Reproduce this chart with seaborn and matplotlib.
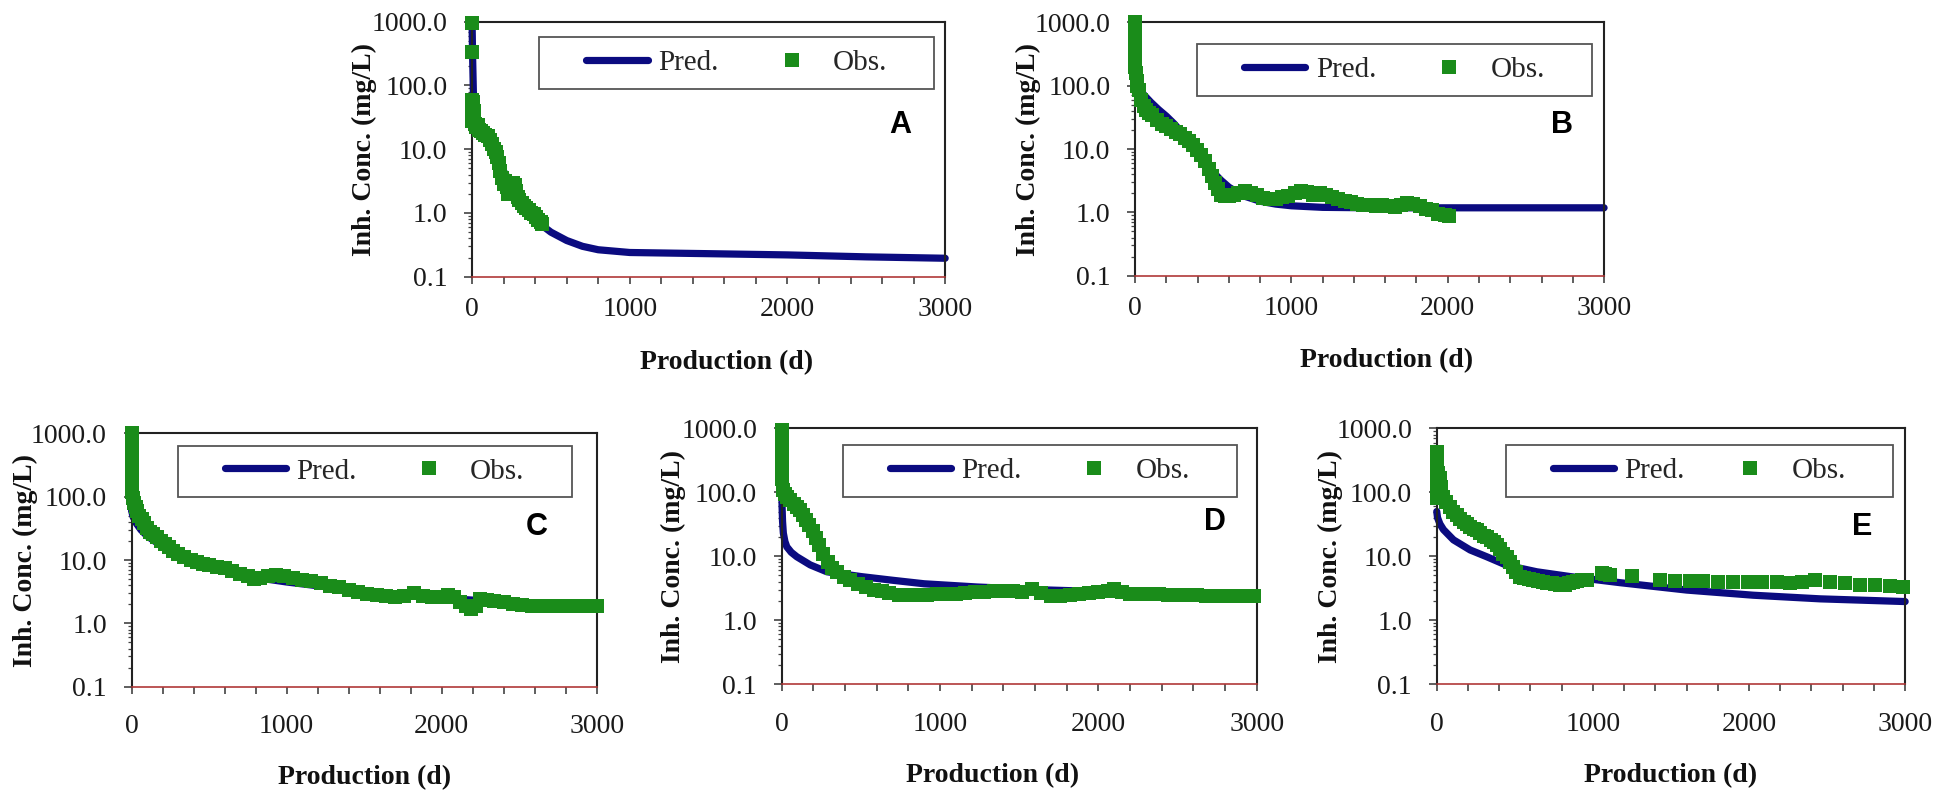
import numpy as np
import pandas as pd
import matplotlib
matplotlib.use("Agg")
import matplotlib.pyplot as plt
import seaborn as sns
from matplotlib.patches import Rectangle
from matplotlib.ticker import LogLocator, NullFormatter, MultipleLocator

# ---------------- data ----------------
a_pred_x = [0, 3, 8, 15, 30, 60, 100, 150, 200, 250, 300, 350, 400, 450, 500, 600, 700, 800, 1000, 1500, 2000, 2500, 3000]
a_pred_y = [950, 300, 80, 45, 32, 24, 17, 9, 4.5, 2.8, 1.9, 1.3, 0.85, 0.62, 0.5, 0.37, 0.3, 0.265, 0.24, 0.23, 0.22, 0.205, 0.195]
a_obs_x = [0, 0, 0, 0, 0, 0, 5, 10, 15, 20, 25, 35, 45, 55, 70, 85, 100, 115, 125, 140, 150, 160, 170, 180, 190, 200,
           210, 220, 230, 240, 250, 260, 270, 280, 290, 300, 315, 330, 345, 360, 375, 390, 405, 420, 435, 445]
a_obs_y = [950, 330, 60, 45, 35, 28, 55, 40, 30, 25, 22, 24, 20, 19, 18, 17, 16, 14, 12, 10, 9, 7.5, 6, 4.5, 3.5, 2.8,
           3.2, 2.6, 2.0, 2.4, 2.9, 3.0, 2.7, 2.2, 1.8, 1.6, 1.45, 1.3, 1.2, 1.1, 1.0, 0.95, 0.85, 0.78, 0.72, 0.68]

b_pred_x = [0, 10, 30, 60, 100, 150, 200, 250, 300, 350, 400, 450, 500, 550, 600, 650, 700, 800, 900, 1000, 1200, 1500, 2000, 2500, 3000]
b_pred_y = [180, 110, 85, 70, 55, 42, 33, 25, 18, 13, 9, 6.2, 4.3, 3.2, 2.5, 2.1, 1.8, 1.5, 1.35, 1.27, 1.2, 1.18, 1.18, 1.18, 1.18]
b_obs_x = [0, 0, 0, 0, 0, 5, 10, 15, 25, 40, 55, 70, 90, 110, 140, 170, 200, 230, 260, 290, 320, 345, 370, 395, 420,
           445, 470, 490, 510, 530, 550, 575, 600, 630, 660, 700, 740, 780, 820, 860, 900, 940, 980, 1020, 1060,
           1100, 1140, 1180, 1220, 1260, 1300, 1340, 1380, 1420, 1460, 1500, 1540, 1580, 1620, 1660, 1700, 1740,
           1780, 1820, 1860, 1900, 1940, 1980, 2010]
b_obs_y = [1000, 700, 450, 300, 200, 160, 120, 100, 85, 60, 48, 41, 37, 34, 29, 25, 23, 21, 18.5, 17, 15, 13.5, 11.5, 9.5, 8,
           6.5, 4.8, 3.8, 2.9, 2.3, 1.9, 1.8, 1.8, 1.9, 2.0, 2.2, 2.0, 1.85, 1.7, 1.6, 1.65, 1.75, 1.8, 2.0, 2.2,
           2.1, 1.9, 2.0, 1.85, 1.75, 1.6, 1.5, 1.45, 1.35, 1.3, 1.3, 1.25, 1.3, 1.25, 1.2, 1.3, 1.4,
           1.35, 1.25, 1.15, 1.1, 0.95, 0.9, 0.88]

c_pred_x = [0, 10, 30, 60, 100, 160, 250, 400, 600, 800, 1000, 1500, 2000, 2500, 3000]
c_pred_y = [60, 48, 38, 30, 24, 19, 14, 9.5, 6.8, 5.3, 4.5, 3.2, 2.5, 2.1, 1.85]
c_obs_x = [0, 0, 0, 0, 0, 0, 8, 16, 25, 35, 50, 65, 80, 100, 120, 140, 165, 190, 215, 240, 270, 300, 340, 380, 420, 460,
           500, 550, 600, 650, 700, 750, 790, 830, 880, 930, 980, 1040, 1100, 1160, 1220, 1280, 1340, 1400, 1460, 1520,
           1580, 1640, 1700, 1760, 1820, 1880, 1940, 2000, 2040, 2080, 2120, 2160, 2190, 2220, 2250, 2290, 2340, 2400,
           2460, 2520, 2580, 2640, 2700, 2760, 2820, 2880, 2940, 3000]
c_obs_y = [1000, 700, 450, 280, 180, 120, 95, 80, 70, 60, 50, 44, 38, 32, 28, 26, 23, 20, 18, 16, 14, 12.5, 11, 10, 9.4, 8.8,
           8.3, 7.9, 7.4, 6.7, 6.1, 5.6, 5.1, 5.3, 5.7, 5.8, 5.5, 5.2, 4.9, 4.6, 4.3, 3.9, 3.7, 3.4, 3.1, 2.9,
           2.8, 2.7, 2.6, 2.75, 3.0, 2.75, 2.6, 2.65, 2.8, 2.6, 2.2, 1.9, 1.7, 1.9, 2.4, 2.35, 2.25, 2.15,
           2.05, 1.95, 1.9, 1.9, 1.9, 1.9, 1.9, 1.9, 1.9, 1.9]

d_pred_x = [0, 2, 5, 10, 20, 32, 60, 95, 180, 285, 500, 700, 900, 1230, 1600, 2000, 2500, 3000]
d_pred_y = [900, 60, 35, 23, 17, 14, 11.5, 9.8, 7.3, 5.7, 4.8, 4.2, 3.7, 3.3, 3.0, 2.8, 2.6, 2.5]
d_obs_x = [0, 0, 0, 0, 0, 0, 0, 10, 20, 35, 55, 75, 95, 115, 135, 155, 175, 195, 215, 235, 260, 290, 320, 350, 390, 430,
           480, 530, 580, 630, 680, 740, 800, 860, 920, 980, 1040, 1100, 1160, 1220, 1280, 1340, 1400, 1460, 1520,
           1580, 1640, 1700, 1760, 1820, 1880, 1940, 2000, 2060, 2100, 2150, 2200, 2260, 2320, 2380, 2440, 2500,
           2560, 2620, 2680, 2740, 2800, 2860, 2920, 2980]
d_obs_y = [950, 750, 550, 400, 300, 220, 160, 110, 95, 85, 75, 66, 59, 52, 44, 37, 31, 25, 19, 15, 11, 8.0, 6.6, 5.6, 4.8, 4.2,
           3.7, 3.3, 3.0, 2.85, 2.7, 2.5, 2.45, 2.45, 2.5, 2.6, 2.6, 2.6, 2.65, 2.75, 2.8, 2.9, 2.9, 2.85, 2.8,
           3.1, 2.7, 2.35, 2.4, 2.45, 2.55, 2.7, 2.8, 2.9, 3.1, 2.8, 2.6, 2.6, 2.6, 2.55, 2.5, 2.5,
           2.45, 2.45, 2.4, 2.4, 2.4, 2.4, 2.35, 2.35]

e_pred_x = [0, 5, 20, 43, 107, 214, 320, 448, 641, 854, 1174, 1601, 2028, 2456, 3000]
e_pred_y = [50, 40, 32, 26, 18, 12.5, 9.8, 7.2, 5.7, 4.8, 3.85, 2.95, 2.45, 2.15, 1.95]
e_obs_x = [0, 0, 0, 0, 0, 0, 10, 20, 30, 43, 60, 85, 105, 128, 150, 175, 192, 215, 240, 256, 280, 300, 320, 345, 365, 384,
           405, 425, 448, 470, 491, 510, 534, 560, 590, 619, 650, 680, 705, 735, 760, 790, 820, 850, 875, 900,
           930, 961, 1057, 1080, 1110, 1249, 1431, 1527, 1623, 1708, 1804, 1900, 1996, 2082, 2178, 2263, 2338, 2423,
           2520, 2616, 2712, 2808, 2904, 2989]
e_obs_y = [420, 320, 230, 160, 110, 80, 200, 170, 120, 85, 70, 59, 50, 44, 38, 34, 32, 29, 27, 26, 23, 21, 20, 18, 16.5, 15,
           13, 11, 9.7, 8, 6.8, 5.6, 4.75, 4.6, 4.4, 4.2, 4.1, 4.0, 3.85, 3.75, 3.7, 3.6, 3.55, 3.8, 4.0, 4.1,
           4.2, 4.3, 5.4, 5.3, 5.1, 4.9, 4.2, 4.15, 4.13, 4.13, 4.0, 4.0, 4.0, 3.95, 3.95, 3.75, 4.0, 4.25,
           3.9, 3.75, 3.6, 3.5, 3.4, 3.35]

panel_letters = ["A", "B", "C", "D", "E"]
legend_labels = ["Pred.", "Obs."]
y_ticks = [0.1, 1, 10, 100, 1000]
y_tick_labels = ["0.1", "1.0", "10.0", "100.0", "1000.0"]
x_ticks = [0, 1000, 2000, 3000]
x_label = "Production (d)"
y_label = "Inh. Conc. (mg/L)"

series = {
    "A": (a_pred_x, a_pred_y, a_obs_x, a_obs_y),
    "B": (b_pred_x, b_pred_y, b_obs_x, b_obs_y),
    "C": (c_pred_x, c_pred_y, c_obs_x, c_obs_y),
    "D": (d_pred_x, d_pred_y, d_obs_x, d_obs_y),
    "E": (e_pred_x, e_pred_y, e_obs_x, e_obs_y),
}

# ---------------- layout / style ----------------
layout = {
    "A": dict(rect=[0.2421, 0.6519, 0.2426, 0.3208], axw=473, leg=(0.142, 0.736, 0.977, 0.939), let=(0.905, 0.594), xlab=0.537, xpad=9.4, xlaby=-0.337),
    "B": dict(rect=[0.5821, 0.6532, 0.2405, 0.3187], axw=469, leg=(0.132, 0.710, 0.974, 0.913), let=(0.910, 0.595), xlab=0.537, xpad=9.4, xlaby=-0.337),
    "C": dict(rect=[0.0675, 0.1362, 0.2385, 0.3187], axw=465, leg=(0.099, 0.749, 0.946, 0.950), let=(0.872, 0.630), xlab=0.500, xpad=15, xlaby=-0.359),
    "D": dict(rect=[0.4009, 0.1396, 0.2436, 0.3216], axw=475, leg=(0.128, 0.731, 0.958, 0.935), let=(0.912, 0.634), xlab=0.444, xpad=15, xlaby=-0.359),
    "E": dict(rect=[0.7368, 0.1396, 0.2402, 0.3216], axw=468, leg=(0.147, 0.731, 0.974, 0.935), let=(0.908, 0.614), xlab=0.500, xpad=15, xlaby=-0.359),
}

NAVY = "#0B0B80"
GREEN = "#1A8C1A"

sns.set_theme(style="ticks")
plt.rcParams["font.family"] = ["Liberation Serif", "DejaVu Serif"]
plt.rcParams["axes.facecolor"] = "white"

fig = plt.figure(figsize=(19.5, 7.95), dpi=100)
fig.patch.set_facecolor("white")

for key in panel_letters:
    px, py, ox, oy = series[key]
    L = layout[key]
    ax = fig.add_axes(L["rect"])
    pred_df = pd.DataFrame({"x": px, "y": py})
    obs_df = pd.DataFrame({"x": ox, "y": oy})

    sns.lineplot(data=pred_df, x="x", y="y", ax=ax, color=NAVY, lw=5.2,
                 estimator=None, sort=False, label=legend_labels[0], zorder=2,
                 solid_capstyle="round", clip_on=False)
    sns.scatterplot(data=obs_df, x="x", y="y", ax=ax, color=GREEN, marker="s",
                    s=92, linewidth=0, label=legend_labels[1], zorder=3, clip_on=False)

    ax.set_yscale("log")
    ax.set_xlim(0, 3000)
    ax.set_ylim(0.1, 1000)
    ax.set_yticks(y_ticks)
    ax.set_yticklabels(y_tick_labels)
    ax.yaxis.set_minor_locator(LogLocator(base=10, subs=np.arange(2, 10)))
    ax.yaxis.set_minor_formatter(NullFormatter())
    ax.set_xticks(x_ticks)
    ax.set_xticklabels([str(v) for v in x_ticks])
    ax.xaxis.set_minor_locator(MultipleLocator(200))

    ax.tick_params(axis="y", which="major", direction="out", length=5.8, width=1.1,
                   color="#333333", labelsize=20, pad=12, labelcolor="#1a1a1a")
    ax.tick_params(axis="y", which="minor", direction="out", length=3.2, width=0.9, color="#444444")
    ax.tick_params(axis="x", which="both", direction="out", length=5, width=1.1,
                   color="#333333", labelsize=20, pad=L["xpad"], labelcolor="#1a1a1a")

    for side in ["top", "right", "left"]:
        ax.spines[side].set_color("#222222")
        ax.spines[side].set_linewidth(1.5)
    ax.spines["bottom"].set_color("#B03838")
    ax.spines["bottom"].set_linewidth(1.2)

    ax.set_xlabel(x_label, fontsize=20, fontweight="bold", color="#111111")
    ax.set_ylabel(y_label, fontsize=20, fontweight="bold", color="#111111")
    ax.xaxis.label.set_va("center")
    ax.yaxis.label.set_va("center")
    ax.xaxis.set_label_coords(L["xlab"], L["xlaby"])
    ax.yaxis.set_label_coords(-0.228, 0.5)

    # legend: frame rectangle + expanded legend inside
    x0, y0, x1, y1 = L["leg"]
    ax.add_patch(Rectangle((x0, y0), x1 - x0, y1 - y0, transform=ax.transAxes,
                           facecolor="white", edgecolor="#555555", lw=1.3,
                           zorder=4, clip_on=False))
    inset = 47.0 / L["axw"]
    handles, labels = ax.get_legend_handles_labels()
    leg = ax.legend(handles, labels, loc="center",
                    bbox_to_anchor=(x0 + inset, y0, (x1 - x0) - 2 * inset, y1 - y0),
                    bbox_transform=ax.transAxes, mode="expand", ncol=2,
                    frameon=False, borderpad=0, borderaxespad=0,
                    handlelength=2.1, handletextpad=0.36, fontsize=21,
                    scatteryoffsets=[0.5])
    leg.set_zorder(5)
    for h in leg.legend_handles:
        if hasattr(h, "set_solid_capstyle"):
            h.set_solid_capstyle("round")

    lx, ly = L["let"]
    ax.text(lx, ly, key, transform=ax.transAxes, ha="center", va="center",
            fontsize=22, fontweight="bold", family=["Liberation Sans", "DejaVu Sans"],
            color="black", zorder=6)

fig.savefig("out.png", dpi=100, facecolor="white")
